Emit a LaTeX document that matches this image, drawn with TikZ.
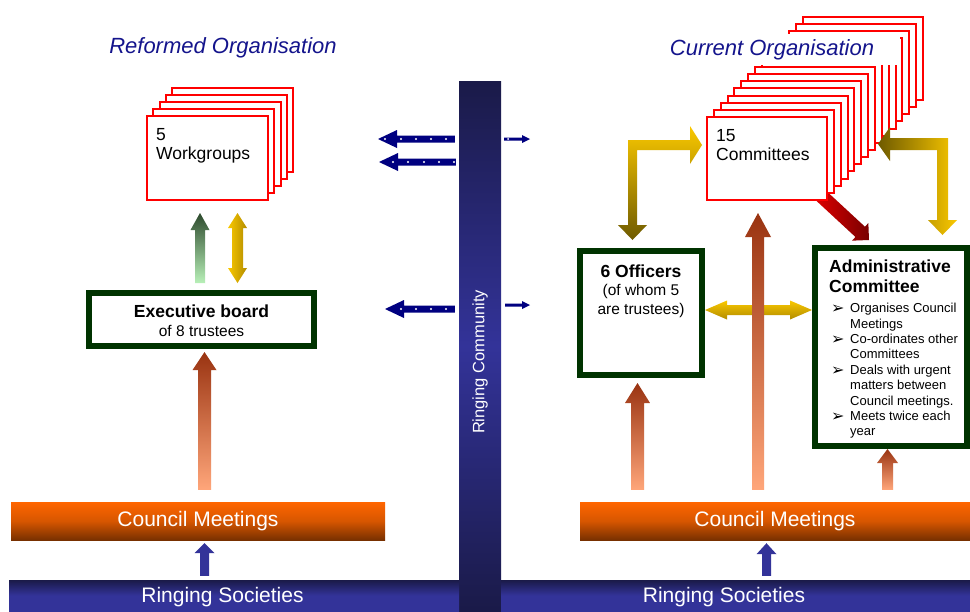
\documentclass[tikz,border=0pt]{standalone}
\usepackage{fontspec}
\setmainfont{Liberation Sans}
\newfontfamily\symFont{DejaVu Sans}
\usetikzlibrary{calc}

\definecolor{titleBlue}{RGB}{20,20,140}
\definecolor{boardGreen}{RGB}{0,51,0}
\definecolor{cmOrange}{RGB}{255,102,0}
\definecolor{cmMid}{RGB}{215,86,0}
\definecolor{cmBrown}{RGB}{120,48,0}
\definecolor{rsDark}{RGB}{26,26,72}
\definecolor{rsBlue}{RGB}{51,51,153}
\definecolor{arrowNavy}{RGB}{0,0,128}
\definecolor{salmonLight}{RGB}{255,166,122}
\definecolor{rustDark}{RGB}{153,51,17}
\definecolor{goldA}{RGB}{250,200,0}
\definecolor{goldDark}{RGB}{178,140,0}
\definecolor{oliveA}{RGB}{110,90,0}
\definecolor{redA}{RGB}{230,0,0}
\definecolor{redDark}{RGB}{120,0,0}
\definecolor{greenLight}{RGB}{184,240,184}
\definecolor{greenDark}{RGB}{45,74,45}

\newcommand\headFont{\bfseries\fontsize{17.5}{20}\selectfont}
\newcommand\subFont{\fontsize{15.5}{19}\selectfont}
\newcommand\boxFont{\fontsize{17.5}{19.5}\selectfont}
\newcommand\listFont{\fontsize{13}{15.4}\selectfont}
\newcommand\barFont{\fontsize{21}{24}\selectfont}
\newcommand\titleFont{\itshape\fontsize{22}{26}\selectfont}
\newcommand\admBul{\hspace*{2pt}\makebox[19pt][l]{\symFont\fontsize{16}{12}\selectfont\raisebox{-1pt}{➢}}}
\newcommand\admInd{\hspace*{21pt}}

% fat arrow: style, tail, tip, half shaft, half head, head length
\newcommand\fatarrow[6]{%
  \path #2 coordinate (fa-tail) #3 coordinate (fa-tip);
  \coordinate (fa-base) at ($(fa-tip)!#6!(fa-tail)$);
  \path[#1] ($(fa-tail)!#4!90:(fa-tip)$) -- ($(fa-base)!#4!90:(fa-tip)$)
    -- ($(fa-base)!#5!90:(fa-tip)$) -- (fa-tip) -- ($(fa-base)!#5!-90:(fa-tip)$)
    -- ($(fa-base)!#4!-90:(fa-tip)$) -- ($(fa-tail)!#4!-90:(fa-tip)$) -- cycle;}
% fat arrow with two heads
\newcommand\fatdouble[6]{%
  \path #2 coordinate (fd-a) #3 coordinate (fd-b);
  \coordinate (fd-ba) at ($(fd-a)!#6!(fd-b)$);
  \coordinate (fd-bb) at ($(fd-b)!#6!(fd-a)$);
  \path[#1] (fd-a) -- ($(fd-ba)!#5!90:(fd-b)$) -- ($(fd-ba)!#4!90:(fd-b)$)
    -- ($(fd-bb)!#4!-90:(fd-a)$) -- ($(fd-bb)!#5!-90:(fd-a)$) -- (fd-b)
    -- ($(fd-bb)!#5!90:(fd-a)$) -- ($(fd-bb)!#4!90:(fd-a)$)
    -- ($(fd-ba)!#4!-90:(fd-b)$) -- ($(fd-ba)!#5!-90:(fd-b)$) -- cycle;}

\begin{document}
\begin{tikzpicture}
[x=1pt,y=-1pt,
stackBox/.style={draw=red,line width=2pt,fill=white,inner sep=0pt},
boardBox/.style={draw=boardGreen,line width=6pt,fill=white,inner sep=0pt},
councilBar/.style={top color=cmOrange,bottom color=cmBrown,middle color=cmMid,
  text=white,font=\barFont,inner sep=0pt},
societyBar/.style={top color=rsDark,bottom color=rsBlue,middle color=rsBlue,inner sep=0pt},
barText/.style={text=white,font=\barFont},
orangeUp/.style={bottom color=salmonLight,top color=rustDark},
goldSide/.style={left color=goldA,right color=goldDark},
goldDown/.style={top color=goldA,bottom color=goldDark}]
  \path[fill=white,use as bounding box] (0,0) rectangle (970,611);

  % titles
  \node[font=\titleFont,text=titleBlue] (reformTitle) at (223,48) {Reformed Organisation};

  % the ringing community and societies
  \node[top color=rsDark,bottom color=rsDark,middle color=rsBlue,inner sep=0pt,
    minimum width=42pt,minimum height=530pt] (community) at (480,346) {};
  \node[rotate=90,text=white,font=\fontsize{16.5}{18}\selectfont] (communityText) at (480,362) {Ringing Community};
  \node[societyBar,minimum width=450pt,minimum height=31pt] (rsL) at (234,595.5) {};
  \node[societyBar,minimum width=469pt,minimum height=31pt] (rsR) at (735.5,595.5) {};
  \node[barText] (rsLText) at (222.5,597) {Ringing Societies};
  \node[barText] (rsRText) at (724,597) {Ringing Societies};
  \node[councilBar,minimum width=374pt,minimum height=38pt] (cmL) at (198,521) {Council Meetings};
  \node[councilBar,minimum width=390pt,minimum height=38pt] (cmR) at (775,521) {Council Meetings};

  % reformed organisation
  \foreach \i in {4,...,1}
    \draw[stackBox] (147+6.3*\i,116-7*\i) rectangle ++(121,84);
  \node[stackBox,minimum width=121pt,minimum height=84pt] (wg) at (207.5,158) {};
  \node[anchor=north west,inner sep=0pt,align=left,font=\boxFont] (wgText)
    at ($(wg.north west)+(10,13)$) {5\\Workgroups};
  \node[boardBox,minimum width=225pt,minimum height=53pt] (exec) at (201.5,319.5) {};
  \node[font=\headFont,inner sep=0pt] (execHead) at (201.5,311) {Executive board};
  \node[font=\subFont,inner sep=0pt] (execSub) at (201.5,331) {of 8 trustees};

  \fatarrow{fill=rsBlue}{($(rsL.north -| 204.5,0)+(0,-4)$)}{($(cmL.south -| 204.5,0)+(0,3)$)}{4.5pt}{10pt}{10pt}
  \fatarrow{orangeUp}{($(cmL.north -| 204.5,0)+(0,-12)$)}{($(exec.south -| 204.5,0)+(0,3)$)}{6.5pt}{12pt}{18pt}
  \fatarrow{bottom color=greenLight,top color=greenDark}{($(exec.north -| 200,0)+(0,-7)$)}{($(wg.south -| 200,0)+(0,12)$)}{5pt}{9.5pt}{17pt}
  \fatdouble{goldSide}{($(wg.south -| 237.5,0)+(0,12)$)}{($(exec.north -| 237.5,0)+(0,-7)$)}{5.5pt}{9.5pt}{15pt}

  % links to the community
  \fatarrow{fill=arrowNavy}{($(community.west |- 0,139)+(-4,0)$)}{(378,139)}{3.5pt}{9pt}{19pt}
  \fatarrow{fill=arrowNavy}{($(community.west |- 0,162)+(-3,0)$)}{(379,162)}{3.5pt}{9pt}{19pt}
  \fatarrow{fill=arrowNavy}{($(community.west |- 0,309)+(-4,0)$)}{(385,309)}{3.5pt}{9pt}{19pt}
  \fatarrow{fill=arrowNavy}{($(community.east |- 0,139)+(3,0)$)}{(530,139)}{1.5pt}{4pt}{8pt}
  \fatarrow{fill=arrowNavy}{($(community.east |- 0,305)+(4,0)$)}{(530,305)}{1.5pt}{4pt}{8pt}
  \foreach \d in {385,401,416,431,446}
    \fill[white] (\d,139) circle[radius=1.1pt];
  \foreach \d in {393,408,424,439,454}
    \fill[white] (\d,162) circle[radius=1.1pt];
  \foreach \d in {401,416,431,446}
    \fill[white] (\d,309) circle[radius=1.1pt];
  \fill[white] (508,139) circle[radius=1pt];

  % current organisation
  \fatarrow{left color=redA,right color=redDark}{(815,190)}{(869,240)}{7pt}{12pt}{12pt}
  \foreach \i in {14,...,1}
    \draw[stackBox] (707+6.86*\i,117-7.14*\i) rectangle ++(120,83);
  \node[stackBox,minimum width=120pt,minimum height=83pt] (comm) at (767,158.5) {};
  \node[anchor=north west,inner sep=0pt,align=left,font=\boxFont] (commText)
    at ($(comm.north west)+(10,13)$) {15\\Committees};
  \fill[white] (662,34) rectangle (900,65);
  \node[font=\titleFont,text=titleBlue] (currentTitle) at (772,50) {Current Organisation};

  \node[boardBox,minimum width=122pt,minimum height=124pt] (off) at (641,313) {};
  \node[anchor=north,inner sep=0pt,font=\headFont] (offHead) at (641,265) {6 Officers};
  \node[anchor=north,inner sep=0pt,align=center,font=\subFont] (offSub) at (641,284) {(of whom 5\\are trustees)};
  \node[boardBox,minimum width=152pt,minimum height=198pt] (admin) at (891,347) {};
  \node[anchor=north west,inner sep=0pt,align=left,font=\headFont] (adminHead) at (829,260)
    {Administrative\\Committee};
  \node[anchor=north west,inner sep=0pt,align=left,font=\listFont] (adminList) at (829,303)
    {\admBul Organises Council\\\admInd Meetings\\\admBul Co-ordinates other\\\admInd Committees\\
     \admBul Deals with urgent\\\admInd matters between\\\admInd Council meetings.\\
     \admBul Meets twice each\\\admInd year};

  \shade[top color=goldA,bottom color=oliveA] (628,140) -- (690,140) -- (690,126) -- (702,145)
    -- (690,164) -- (690,150) -- (637,150) -- (637,225) -- (647,225) -- (632.5,240)
    -- (618,225) -- (628,225) -- cycle;
  \shade[left color=oliveA,right color=goldA] (878,144) -- (890,127) -- (890,138) -- (948,138)
    -- (948,220) -- (957,220) -- (942.5,235) -- (928,220) -- (937,220) -- (937,150)
    -- (890,150) -- (890,161) -- cycle;
  \fatdouble{goldDown}{(off.east |- 0,310)}{(admin.west |- 0,310)}{5pt}{9.5pt}{22pt}

  \fatarrow{fill=rsBlue}{($(rsR.north -| 766.5,0)+(0,-4)$)}{($(cmR.south -| 766.5,0)+(0,3)$)}{4.5pt}{10pt}{11pt}
  \fatarrow{orangeUp}{($(cmR.north -| 637.5,0)+(0,-12)$)}{($(off.south -| 637.5,0)+(0,5)$)}{6.5pt}{12.5pt}{20pt}
  \fatarrow{orangeUp}{($(cmR.north -| 758,0)+(0,-12)$)}{($(comm.south -| 758,0)+(0,12)$)}{6pt}{13pt}{24pt}
  \fatarrow{orangeUp}{($(cmR.north -| 887.5,0)+(0,-12)$)}{(admin.south -| 887.5,0)}{5.5pt}{10.5pt}{14pt}
\end{tikzpicture}
\end{document}
